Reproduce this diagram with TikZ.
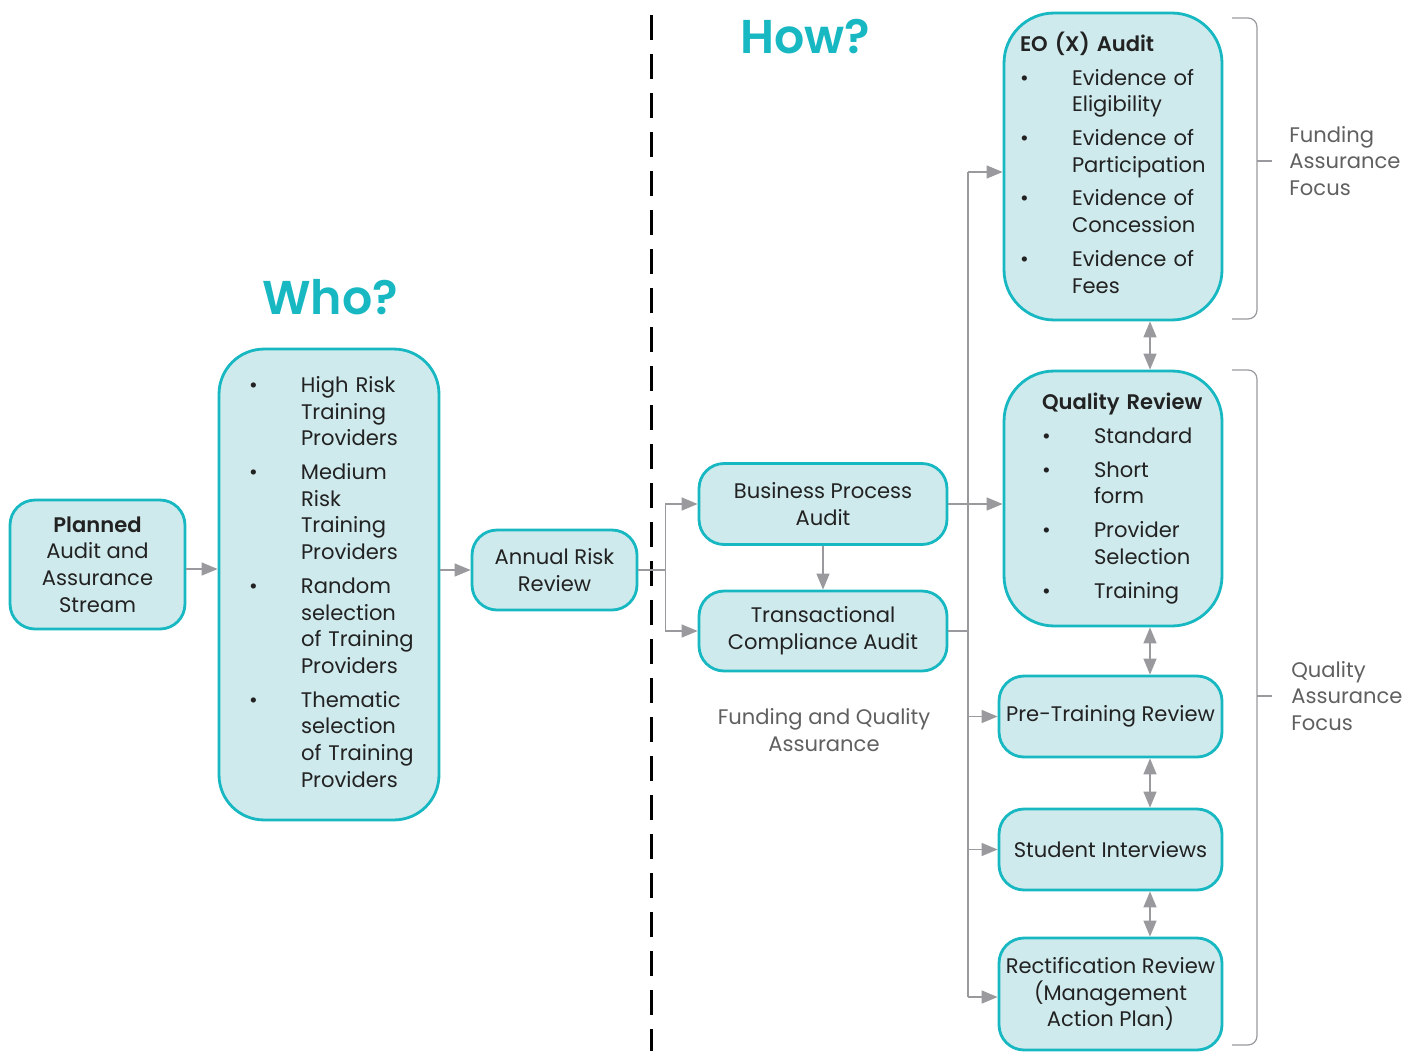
\documentclass[tikz,border=0pt]{standalone}
\usepackage{fontspec}
\setmainfont{Poppins}[BoldFont={Poppins SemiBold}]
\usetikzlibrary{arrows.meta,calc}
\definecolor{rim}{HTML}{17B8C2}
\definecolor{boxfill}{HTML}{CFEAED}
\definecolor{ink}{HTML}{222222}
\definecolor{wire}{HTML}{9A9A9E}
\definecolor{notegray}{HTML}{606060}
\newcommand{\bodyfont}{\fontsize{12}{15.2}\selectfont}
\newcommand{\bul}{\textbullet}

\begin{document}
\begin{tikzpicture}[x=0.02cm,y=-0.02cm,
  box/.style={draw=rim, line width=1.6pt, fill=boxfill, rounded corners=0.5cm,
    align=center, font=\bodyfont, text=ink, inner sep=0pt},
  listbox/.style={box, align=left, rounded corners=0.9cm},
  conn/.style={draw=wire, line width=0.8pt, -{Triangle[length=0.32cm,width=0.26cm]}},
  dbl/.style={draw=wire, line width=0.8pt,
    {Triangle[length=0.32cm,width=0.26cm]}-{Triangle[length=0.32cm,width=0.26cm]}},
  wireline/.style={draw=wire, line width=0.8pt},
  brace/.style={draw=wire, line width=0.7pt, rounded corners=0.18cm},
  heading/.style={font=\fontsize{27}{32}\selectfont\bfseries, text=rim},
  note/.style={font=\bodyfont, text=notegray, align=left, inner sep=0pt}]
				%%%%% FRAME %%%%%
				\useasboundingbox (0,0) rectangle (1419,1051);
				\def\busx{968}
				\def\dblx{1150}
				
				%%%%% WHO SIDE %%%%%
				\node[heading] (who-title) at (330,297) {Who?};
				
				\node[box, minimum width=3.5cm, minimum height=2.58cm] (plan) at (97.5,564.5)
				  {\textbf{Planned}\\Audit and\\Assurance\\Stream};
				
				\node[listbox, minimum width=4.4cm, minimum height=9.42cm, text width=3.2cm, inner xsep=0.6cm] (who) at (329,584.5) {%
				  \begin{tabular}{@{}p{1.04cm}@{}l@{}}
				  \bul & High Risk\\ & Training\\ & Providers\\[4pt]
				  \bul & Medium\\ & Risk\\ & Training\\ & Providers\\[4pt]
				  \bul & Random\\ & selection\\ & of Training\\ & Providers\\[4pt]
				  \bul & Thematic\\ & selection\\ & of Training\\ & Providers
				  \end{tabular}};
				
				\node[box, minimum width=3.3cm, minimum height=1.6cm] (arr) at (554.5,570) {Annual Risk\\Review};
				
				%%%%% DIVIDER %%%%%
				\draw[line width=1.7pt, dash pattern=on 0.5cm off 0.28cm] (651,15) -- (651,1051);
				
				%%%%% HOW SIDE %%%%%
				\node[heading] (how-title) at (805,37) {How?};
				
				\node[box, minimum width=4.96cm, minimum height=1.62cm] (bpa) at (823,504) {Business Process\\Audit};
				\node[box, minimum width=4.96cm, minimum height=1.6cm] (tca) at (823,631) {Transactional\\Compliance Audit};
				\node[note, align=center] (fqa) at (824,730) {Funding and Quality\\Assurance};
				
				\node[listbox, rounded corners=1cm, minimum width=4.36cm, minimum height=6.14cm, text width=3.72cm, inner xsep=0.32cm] (eo) at (1113,166.5) {%
				  \begin{tabular}{@{}p{1.04cm}@{}l@{}}
				  \multicolumn{2}{@{}l@{}}{\textbf{EO (X) Audit}}\\[4pt]
				  \bul & Evidence of\\ & Eligibility\\[4pt]
				  \bul & Evidence of\\ & Participation\\[4pt]
				  \bul & Evidence of\\ & Concession\\[4pt]
				  \bul & Evidence of\\ & Fees
				  \end{tabular}};
				
				\node[listbox, rounded corners=1cm, minimum width=4.36cm, minimum height=5.1cm, text width=2.84cm, inner xsep=0.76cm] (qr) at (1113,498.5) {%
				  \begin{tabular}{@{}p{1.04cm}@{}l@{}}
				  \multicolumn{2}{@{}l@{}}{\textbf{Quality Review}}\\[4pt]
				  \bul & Standard\\[4pt]
				  \bul & Short\\ & form\\[4pt]
				  \bul & Provider\\ & Selection\\[4pt]
				  \bul & Training
				  \end{tabular}};
				
				\node[box, minimum width=4.46cm, minimum height=1.62cm] (ptr) at (1110.5,716.5) {Pre-Training Review};
				\node[box, minimum width=4.46cm, minimum height=1.62cm] (si) at (1110.5,849.5) {Student Interviews};
				\node[box, minimum width=4.46cm, minimum height=2.24cm] (rr) at (1110.5,994) {Rectification Review\\(Management\\Action Plan)};
				
				%%%%% CONNECTORS %%%%%
				\draw[conn] (plan.east |- 0,569) -- (who.west |- 0,569);
				\draw[conn] (arr.west -| who.east) -- (arr.west);
				\coordinate (split) at ($(arr.east)+(27,0)$);
				\draw[conn] (arr.east) -- (split) |- (bpa.west);
				\draw[conn] (split) |- (tca.west);
				\draw[conn] (bpa) -- (tca);
				
				\coordinate (bus) at (\busx,0);
				\draw[wireline] (bus |- 0,172) -- (bus |- 0,997);
				\draw[wireline] (tca.east) -- (tca.east -| bus);
				\draw[conn] (bus |- 0,172) -- (eo.west |- 0,172);
				\draw[conn] (bpa.east) -- (bpa.east -| qr.west);
				\draw[conn] (bus |- ptr.west) -- (ptr.west);
				\draw[conn] (bus |- si.west) -- (si.west);
				\draw[conn] (bus |- 0,997) -- (rr.west |- 0,997);
				
				\coordinate (mid) at (\dblx,0);
				\draw[dbl] (mid |- eo.south) -- (mid |- qr.north);
				\draw[dbl] (mid |- qr.south) -- (mid |- ptr.north);
				\draw[dbl] (mid |- ptr.south) -- (mid |- si.north);
				\draw[dbl] (mid |- si.south) -- (mid |- rr.north);
				
				%%%%% FOCUS BRACES %%%%%
				\draw[brace] (1232,18) -- (1257,18) -- (1257,319) -- (1232,319);
				\draw[wireline, line width=0.7pt] (1257,161) -- (1272,161);
				\node[note, anchor=west] (fund-focus) at (1289,161) {Funding\\Assurance\\Focus};
				
				\draw[brace] (1232,370) -- (1257,370) -- (1257,1045) -- (1232,1045);
				\draw[wireline, line width=0.7pt] (1257,696) -- (1272,696);
				\node[note, anchor=west] (qual-focus) at (1291,696) {Quality\\Assurance\\Focus};
			\end{tikzpicture}
\end{document}
